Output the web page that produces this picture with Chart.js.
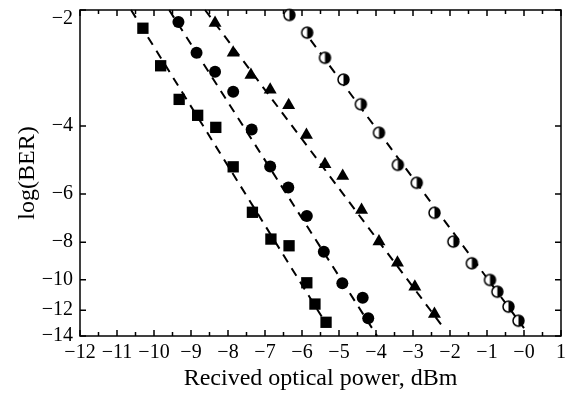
<!DOCTYPE html>
<html>
<head>
<meta charset="utf-8">
<script src="https://cdn.jsdelivr.net/npm/chart.js@4/dist/chart.umd.min.js"></script>
<style>
  html, body { margin: 0; padding: 0; background: #fff; }
  #wrap { width: 570px; height: 393px; }
</style>
</head>
<body>
<div id="wrap"><canvas id="myChart" width="570" height="393"></canvas></div>
<script>
// points: x = received power (dBm), y = log(BER)
var squarePower = [-10.30, -9.82, -9.32, -8.82, -8.33, -7.86, -7.34, -6.84, -6.35, -5.87, -5.65, -5.35];
var squareBer   = [-2.23, -2.79, -3.41, -3.75, -4.03, -5.10, -6.69, -7.85, -8.17, -10.19, -11.57, -12.90];

var circlePower = [-9.34, -8.85, -8.35, -7.86, -7.36, -6.86, -6.37, -5.87, -5.41, -4.91, -4.36, -4.21];
var circleBer   = [-2.15, -2.58, -2.89, -3.26, -4.08, -5.09, -5.77, -6.84, -8.47, -10.22, -11.14, -12.59];

var trianglePower = [-8.35, -7.86, -7.38, -6.86, -6.36, -5.88, -5.38, -4.90, -4.39, -3.92, -3.42, -2.95, -2.42];
var triangleBer   = [-2.16, -2.58, -2.95, -3.22, -3.53, -4.22, -5.02, -5.39, -6.60, -7.97, -9.04, -10.43, -12.27];

var halfPower = [-6.34, -5.86, -5.38, -4.88, -4.41, -3.92, -3.41, -2.90, -2.42, -1.91, -1.41, -0.92, -0.72, -0.42, -0.15];
var halfBer   = [-2.06, -2.29, -2.66, -3.03, -3.51, -4.16, -5.04, -5.61, -6.71, -7.97, -9.07, -10.02, -10.75, -11.75, -12.78];

// dashed fit lines (start, end)
var squareFitPower = [-10.62, -5.35];
var squareFitBer   = [-2.0, -13.0];
var circleFitPower = [-9.59, -3.97];
var circleFitBer   = [-2.0, -14.0];
var triangleFitPower = [-8.62, -2.13];
var triangleFitBer   = [-2.0, -13.5];
var halfFitPower = [-5.77, 0.0];
var halfFitBer   = [-2.39, -13.35];

var yTicks = [2, 4, 6, 8, 10, 12, 14];

Chart.defaults.font.family = "'Liberation Serif', 'Times New Roman', serif";
Chart.defaults.color = '#000';

// log axis runs on -log(BER)
function pts(xs, ys) {
    return xs.map(function (x, i) { return {x: x, y: -ys[i]}; });
}

function halfCircle(r) {
    var c = document.createElement('canvas');
    var s = Math.ceil(r * 2 + 4);
    c.width = s; c.height = s;
    var g = c.getContext('2d');
    var m = s / 2;
    g.beginPath(); g.arc(m, m, r, 0, Math.PI * 2); g.fillStyle = '#fff'; g.fill();
    g.beginPath(); g.moveTo(m, m - r); g.arc(m, m, r, -Math.PI / 2, Math.PI / 2); g.closePath();
    g.fillStyle = '#000'; g.fill();
    g.beginPath(); g.arc(m, m, r, 0, Math.PI * 2); g.lineWidth = 1.5; g.strokeStyle = '#000'; g.stroke();
    return c;
}

function markers(data, style, r) {
    return {
        data: data, pointStyle: style, pointRadius: r, pointHoverRadius: r,
        pointBackgroundColor: '#000', pointBorderColor: '#000', pointBorderWidth: 0,
        showLine: false, clip: false
    };
}

function fitLine(data) {
    return {
        data: data, showLine: true, pointRadius: 0, borderColor: '#000',
        borderWidth: 2, borderDash: [9, 7], fill: false, clip: false
    };
}

// box + inward ticks on all four sides
var frameTicks = {
    id: 'frameTicks',
    beforeDatasetsDraw: function (chart) {
        var ctx = chart.ctx, a = chart.chartArea;
        var xs = chart.scales.x, ys = chart.scales.y;
        ctx.save();
        ctx.strokeStyle = '#000';
        ctx.lineWidth = 1.5;
        ctx.strokeRect(a.left, a.top, a.right - a.left, a.bottom - a.top);
        ctx.beginPath();
        for (var v = -12; v <= 1; v += 0.5) {
            var px = xs.getPixelForValue(v);
            var len = Number.isInteger(v) ? 6 : 4;
            ctx.moveTo(px, a.bottom); ctx.lineTo(px, a.bottom - len);
            ctx.moveTo(px, a.top); ctx.lineTo(px, a.top + len);
        }
        yTicks.forEach(function (t) {
            var py = ys.getPixelForValue(t);
            ctx.moveTo(a.left, py); ctx.lineTo(a.left + 6, py);
            ctx.moveTo(a.right, py); ctx.lineTo(a.right - 6, py);
        });
        ctx.stroke();
        ctx.restore();
    }
};

var ctx = document.getElementById('myChart').getContext('2d');
var chart = new Chart(ctx, {
    type: 'scatter',
    data: {
        datasets: [
            markers(pts(squarePower, squareBer), 'rect', 8),
            markers(pts(circlePower, circleBer), 'circle', 6),
            markers(pts(trianglePower, triangleBer), 'triangle', 7.5),
            markers(pts(halfPower, halfBer), halfCircle(5.5), 6),
            fitLine(pts(squareFitPower, squareFitBer)),
            fitLine(pts(circleFitPower, circleFitBer)),
            fitLine(pts(triangleFitPower, triangleFitBer)),
            fitLine(pts(halfFitPower, halfFitBer))
        ]
    },
    options: {
        responsive: false,
        animation: false,
        devicePixelRatio: 1,
        layout: { padding: { top: 10, right: 9, left: 0, bottom: 0 } },
        plugins: { legend: { display: false }, tooltip: { enabled: false } },
        scales: {
            x: {
                type: 'linear', position: 'bottom', min: -12, max: 1,
                grid: { display: false, drawTicks: false, tickLength: 0 },
                border: { display: false },
                ticks: {
                    stepSize: 1, padding: 5, color: '#000', font: { size: 20 },
                    maxRotation: 0, autoSkip: false,
                    callback: function (v) { return v > 0 ? String(v) : '\u2212' + Math.abs(v); }
                },
                title: { display: true, text: 'Recived optical power, dBm', color: '#000',
                         font: { size: 24, lineHeight: 1.2 }, padding: { top: 0, bottom: 0 } },
                afterFit: function (s) { s.height = 57; s.paddingLeft = 0; s.paddingRight = 0; }
            },
            y: {
                type: 'logarithmic', position: 'left', min: 2, max: 14, reverse: true,
                grid: { display: false, drawTicks: false, tickLength: 0 },
                border: { display: false },
                afterBuildTicks: function (s) { s.ticks = yTicks.map(function (v) { return {value: v}; }); },
                ticks: {
                    padding: 7, color: '#000', autoSkip: false,
                    // top label sits a little below its tick, as in the original
                    font: function (c) {
                        return (c.tick && c.tick.value === 2) ? { size: 20, lineHeight: '18px' } : { size: 20 };
                    },
                    callback: function (v) { return v === 2 ? ['', '\u2212' + v] : '\u2212' + v; }
                },
                title: { display: true, text: 'log(BER)', color: '#000',
                         font: { size: 24, lineHeight: 1.2 }, padding: { top: 13, bottom: 0 } },
                afterFit: function (s) { s.width = 80; s.paddingTop = 0; s.paddingBottom = 0; }
            }
        }
    },
    plugins: [frameTicks]
});
</script>
</body>
</html>
